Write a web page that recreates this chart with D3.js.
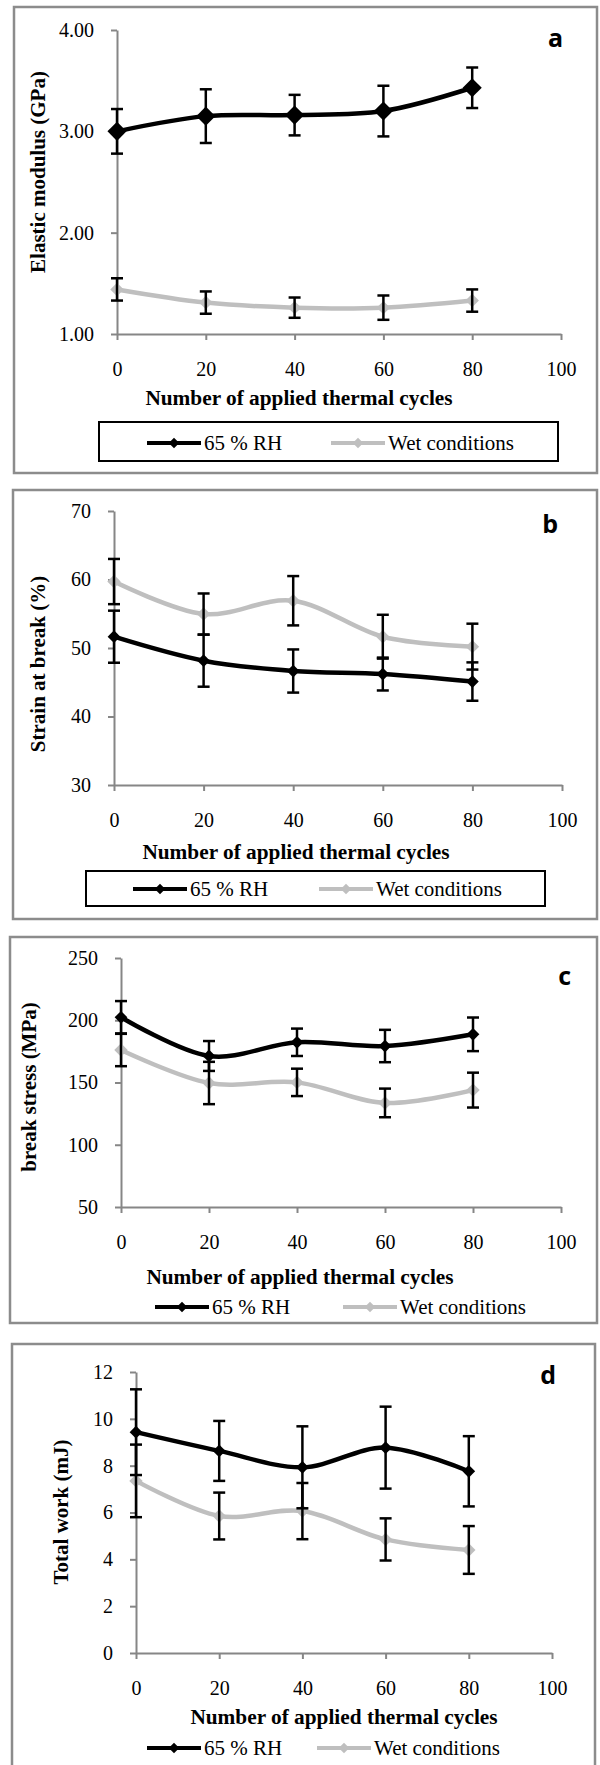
<!DOCTYPE html>
<html>
<head>
<meta charset="utf-8">
<script src="https://cdn.jsdelivr.net/npm/d3@7"></script>
<style>
    body { margin: 0; background: #fff; }
    svg { display: block; }
</style>
</head>
<body>
<svg id="chart" width="600" height="1765"></svg>
<script>
// data
var cycles = [0, 20, 40, 60, 80];
var xTickValues = [0, 20, 40, 60, 80, 100];
var seriesNames = ["65 % RH", "Wet conditions"];

var modulusRH = [3.00, 3.15, 3.16, 3.20, 3.43];
var modulusRHErr = [0.22, 0.265, 0.20, 0.25, 0.20];
var modulusWet = [1.44, 1.31, 1.26, 1.26, 1.33];
var modulusWetErr = [0.11, 0.11, 0.10, 0.12, 0.11];
var modulusTicks = [1, 2, 3, 4];

var strainRH = [51.65, 48.15, 46.64, 46.2, 45.1];
var strainRHErr = [3.8, 3.8, 3.15, 2.4, 2.8];
var strainWet = [59.7, 54.96, 56.9, 51.65, 50.2];
var strainWetErr = [3.3, 3.0, 3.6, 3.2, 3.35];
var strainTicks = [30, 40, 50, 60, 70];

var stressRH = [202.4, 171.3, 182.3, 179.3, 188.7];
var stressRHErr = [13, 12, 11, 13, 13.5];
var stressWet = [176.1, 149.6, 150.1, 133.6, 143.9];
var stressWetErr = [13, 17, 11, 11.5, 14];
var stressTicks = [50, 100, 150, 200, 250];

var workRH = [9.43, 8.63, 7.93, 8.77, 7.76];
var workRHErr = [1.83, 1.28, 1.75, 1.75, 1.5];
var workWet = [7.35, 5.85, 6.06, 4.85, 4.40];
var workWetErr = [1.55, 1.0, 1.2, 0.9, 1.02];
var workTicks = [0, 2, 4, 6, 8, 10, 12];

var rhColor = "#000000",
    wetColor = "#bfbfbf",
    axisColor = "#868686",
    frameColor = "#8c8c8c",
    serif = "'Liberation Serif', 'Times New Roman', serif";

var panels = [
    {
        letter: "a", letterX: 563, letterY: 47,
        frame: [14, 7, 583, 466],
        left: 117, right: 561, top: 30, bottom: 334,
        domain: [1, 4], ticks: modulusTicks, fmt: d3.format(".2f"),
        rh: modulusRH, rhErr: modulusRHErr, wet: modulusWet, wetErr: modulusWetErr,
        yTitle: "Elastic modulus (GPa)", yTitleX: 38, yTitleY: 172,
        xTitleX: 299, xTitleY: 398,
        legendY: 443, rhX: 147, wetX: 331, box: [99, 422, 459, 39],
        rhSize: 13.5, wetSize: 9.5
    },
    {
        letter: "b", letterX: 558, letterY: 533,
        frame: [13, 490, 584, 429],
        left: 114, right: 562, top: 511, bottom: 785,
        domain: [30, 70], ticks: strainTicks, fmt: d3.format("d"),
        rh: strainRH, rhErr: strainRHErr, wet: strainWet, wetErr: strainWetErr,
        yTitle: "Strain at break (%)", yTitleX: 38, yTitleY: 664,
        xTitleX: 296, xTitleY: 852,
        legendY: 889, rhX: 133, wetX: 319, box: [86, 871, 459, 35],
        rhSize: 9, wetSize: 9.5
    },
    {
        letter: "c", letterX: 571, letterY: 985,
        frame: [10, 937, 587, 386],
        left: 121, right: 561, top: 958, bottom: 1207,
        domain: [50, 250], ticks: stressTicks, fmt: d3.format("d"),
        rh: stressRH, rhErr: stressRHErr, wet: stressWet, wetErr: stressWetErr,
        yTitle: "break stress (MPa)", yTitleX: 29, yTitleY: 1087,
        xTitleX: 300, xTitleY: 1277,
        legendY: 1307, rhX: 155, wetX: 343, box: null,
        rhSize: 9, wetSize: 9.5
    },
    {
        letter: "d", letterX: 556, letterY: 1384,
        frame: [12, 1344, 583, 440],
        left: 136, right: 552, top: 1372, bottom: 1653,
        domain: [0, 12], ticks: workTicks, fmt: d3.format("d"),
        rh: workRH, rhErr: workRHErr, wet: workWet, wetErr: workWetErr,
        yTitle: "Total work (mJ)", yTitleX: 61, yTitleY: 1512,
        xTitleX: 344, xTitleY: 1717,
        legendY: 1748, rhX: 147, wetX: 317, box: null,
        rhSize: 9, wetSize: 9.5
    }
];

var svg = d3.select("svg#chart");

function diamond(sel, cx, cy, side, color) {
    sel.append("rect")
        .attr("x", -side / 2)
        .attr("y", -side / 2)
        .attr("width", side)
        .attr("height", side)
        .attr("fill", color)
        .attr("transform", "translate(" + cx + "," + cy + ") rotate(45)");
}

function drawPanel(p) {
    var g = svg.append("g");

    g.append("rect")
        .attr("x", p.frame[0])
        .attr("y", p.frame[1])
        .attr("width", p.frame[2])
        .attr("height", p.frame[3])
        .attr("fill", "none")
        .attr("stroke", frameColor)
        .attr("stroke-width", 2.5);

    var x = d3.scaleLinear().domain([0, 100]).range([p.left, p.right]);
    var y = d3.scaleLinear().domain(p.domain).range([p.bottom, p.top]);

    var yAxis = g.append("g")
        .attr("transform", "translate(" + p.left + ",0)")
        .call(d3.axisLeft(y).tickValues(p.ticks).tickFormat(p.fmt)
            .tickSize(6).tickSizeOuter(0).tickPadding(17));

    var xAxis = g.append("g")
        .attr("transform", "translate(0," + p.bottom + ")")
        .call(d3.axisBottom(x).tickValues(xTickValues)
            .tickSize(6).tickSizeOuter(0).tickPadding(22));

    [xAxis, yAxis].forEach(function(a) {
        a.attr("font-family", serif).attr("font-size", 20);
        a.select(".domain").attr("stroke", axisColor).attr("stroke-width", 2);
        a.selectAll(".tick line").attr("stroke", axisColor).attr("stroke-width", 2);
        a.selectAll(".tick text").attr("fill", "#000");
    });

    var line = d3.line()
        .x(function(d, i) { return x(cycles[i]); })
        .y(function(d) { return y(d); })
        .curve(d3.curveCatmullRom.alpha(0));

    g.append("path")
        .attr("d", line(p.wet))
        .attr("fill", "none")
        .attr("stroke", wetColor)
        .attr("stroke-width", 4.5);

    g.append("path")
        .attr("d", line(p.rh))
        .attr("fill", "none")
        .attr("stroke", rhColor)
        .attr("stroke-width", 4.5);

    p.rh.forEach(function(v, i) {
        diamond(g, x(cycles[i]), y(v), p.rhSize, rhColor);
    });
    p.wet.forEach(function(v, i) {
        diamond(g, x(cycles[i]), y(v), p.wetSize, wetColor);
    });

    // error bars on top
    [[p.rh, p.rhErr], [p.wet, p.wetErr]].forEach(function(s) {
        s[0].forEach(function(v, i) {
            var cx = x(cycles[i]),
                y1 = y(v + s[1][i]),
                y2 = y(v - s[1][i]);
            g.append("line")
                .attr("x1", cx).attr("x2", cx)
                .attr("y1", y1).attr("y2", y2)
                .attr("stroke", "#000").attr("stroke-width", 2.5);
            [y1, y2].forEach(function(yy) {
                g.append("line")
                    .attr("x1", cx - 6).attr("x2", cx + 6)
                    .attr("y1", yy).attr("y2", yy)
                    .attr("stroke", "#000").attr("stroke-width", 2.5);
            });
        });
    });

    g.append("text")
        .attr("transform", "translate(" + p.yTitleX + "," + p.yTitleY + ") rotate(-90)")
        .attr("dy", "0.33em")
        .attr("text-anchor", "middle")
        .attr("font-family", serif)
        .attr("font-size", 21)
        .attr("font-weight", "bold")
        .text(p.yTitle);

    g.append("text")
        .attr("x", p.xTitleX)
        .attr("y", p.xTitleY)
        .attr("dy", "0.33em")
        .attr("text-anchor", "middle")
        .attr("font-family", serif)
        .attr("font-size", 21.3)
        .attr("font-weight", "bold")
        .text("Number of applied thermal cycles");

    g.append("text")
        .attr("x", p.letterX)
        .attr("y", p.letterY)
        .attr("text-anchor", "end")
        .attr("font-family", "'Open Sans', sans-serif")
        .attr("font-size", 25)
        .attr("font-weight", "bold")
        .text(p.letter);

    // legend
    if (p.box) {
        g.append("rect")
            .attr("x", p.box[0])
            .attr("y", p.box[1])
            .attr("width", p.box[2])
            .attr("height", p.box[3])
            .attr("fill", "none")
            .attr("stroke", "#000")
            .attr("stroke-width", 2);
    }
    var legend = g.selectAll("g.legend")
        .data([[rhColor, p.rhX], [wetColor, p.wetX]])
        .enter()
        .append("g")
        .attr("class", "legend")
        .attr("transform", function(d) {
            return "translate(" + d[1] + "," + p.legendY + ")";
        });
    legend.append("line")
        .attr("x1", 0).attr("x2", 54)
        .attr("stroke", function(d) { return d[0]; })
        .attr("stroke-width", 4);
    legend.each(function(d) {
        diamond(d3.select(this), 27, 0, 7.5, d[0]);
    });
    legend.append("text")
        .attr("x", 57)
        .attr("dy", "0.33em")
        .attr("font-family", serif)
        .attr("font-size", 21)
        .text(function(d, i) { return seriesNames[i]; });
}

panels.forEach(drawPanel);
</script>
</body>
</html>
